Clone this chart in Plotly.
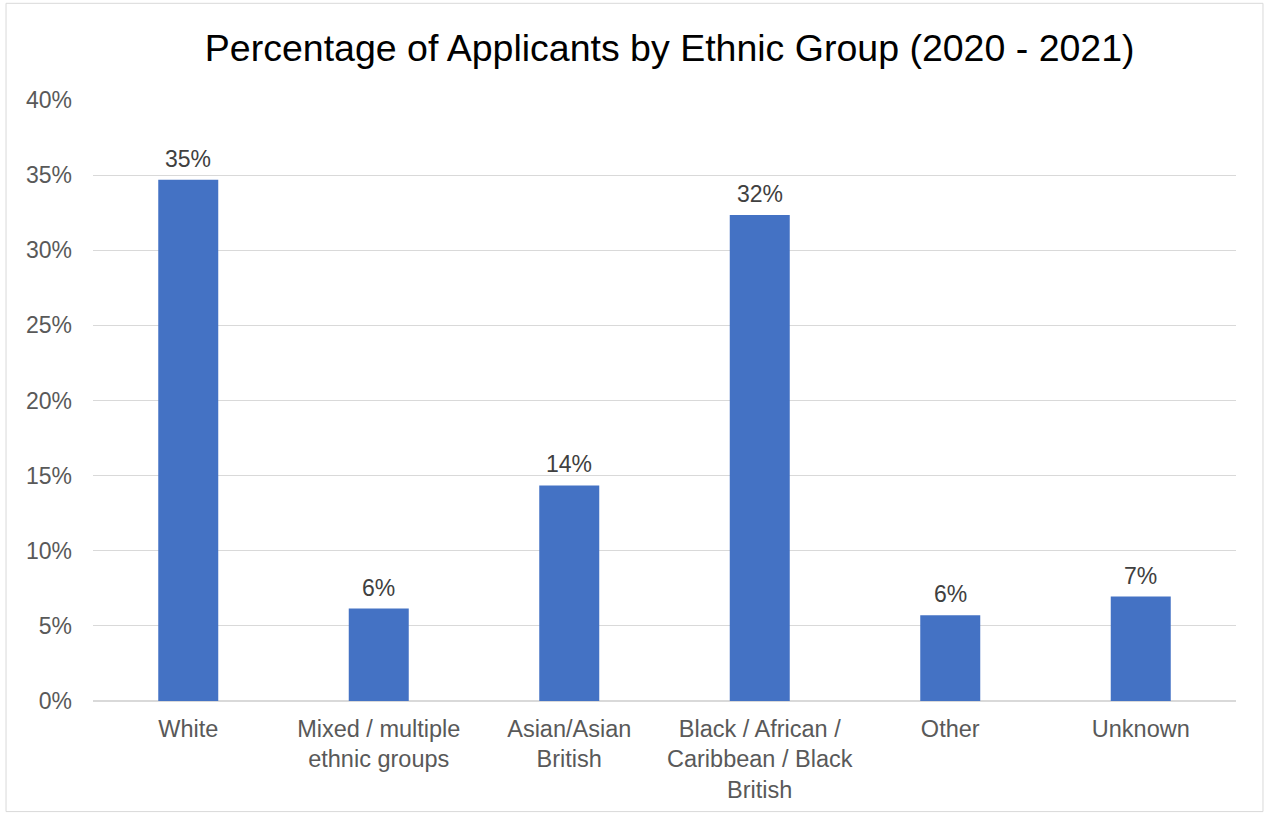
import plotly.graph_objects as go

categories = ["White", "Mixed / multiple<br>ethnic groups", "Asian/Asian<br>British",
              "Black / African /<br>Caribbean / Black<br>British", "Other", "Unknown"]
values = [0.347, 0.0615, 0.1435, 0.3235, 0.057, 0.0695]
tick_vals = [0, 0.05, 0.10, 0.15, 0.20, 0.25, 0.30, 0.35, 0.40]

FONT = "Liberation Sans, Arial, sans-serif"

fig = go.Figure(go.Bar(
    x=categories, y=values,
    marker=dict(color="#4472C4", line=dict(width=0)),
    hoverinfo="x+y",
))

for c, v in zip(categories, values):
    fig.add_annotation(x=c, y=v, text=f"{v:.0%}", showarrow=False,
                       yanchor="bottom", yshift=6,
                       font=dict(family=FONT, size=23, color="#404040"))

fig.update_layout(
    width=1266, height=815,
    margin=dict(l=93, r=30, t=100, b=112),
    paper_bgcolor="white", plot_bgcolor="white",
    bargap=0.685,
    showlegend=False,
    title=dict(text="Percentage of Applicants by Ethnic Group (2020 - 2021)",
               x=0.529, xanchor="center", y=1 - 48 / 815, yanchor="middle",
               font=dict(family=FONT, size=37.5, color="#000000")),
    font=dict(family=FONT, size=23, color="#595959"),
    shapes=[dict(type="rect", xref="paper", yref="paper",
                 x0=-0.0761, x1=1.0236, y0=-0.184, y1=1.1609,
                 line=dict(color="#d9d9d9", width=1), fillcolor="rgba(0,0,0,0)")],
)
fig.update_yaxes(range=[0, 0.40], tickvals=tick_vals, tickformat=".0%",
                 showgrid=True, gridcolor="#d9d9d9", gridwidth=1,
                 zeroline=True, zerolinecolor="#d9d9d9", zerolinewidth=2,
                 ticklabelstandoff=20,
                 tickfont=dict(family=FONT, size=23, color="#595959"))
fig.update_xaxes(showgrid=False, showline=False, ticklabelstandoff=11,
                 tickfont=dict(family=FONT, size=23.5, color="#595959"))

fig.write_html("out.html", config={"displayModeBar": False},
               post_script="document.body.style.margin='0';document.body.style.padding='0';")
